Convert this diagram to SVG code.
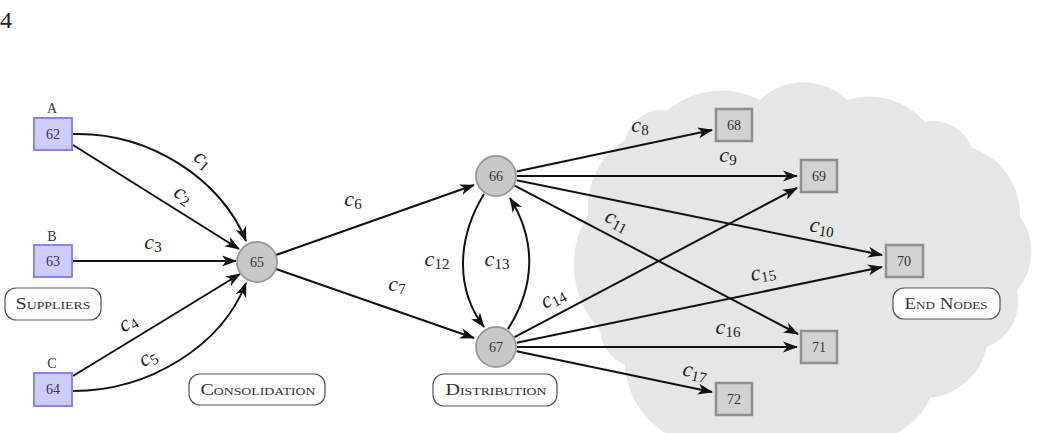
<svg xmlns="http://www.w3.org/2000/svg" width="1038" height="433" viewBox="0 0 1038 433">
<style>
.sup{fill:#ccccff;stroke:#8585f5;stroke-width:2}
.end{fill:#d2d2d2;stroke:#8f8f8f;stroke-width:2.5}
.hub{fill:#c8c8c8;stroke:#999;stroke-width:1.8}
.num{font-family:"Liberation Serif",serif;font-size:14px;fill:#333;text-anchor:middle}
.let{font-family:"Liberation Serif",serif;font-size:14px;fill:#333;text-anchor:middle}
.e{fill:none;stroke:#111;stroke-width:2;marker-end:url(#ah)}
.lab{font-family:"Liberation Serif",serif;font-size:22px;font-style:italic;fill:#222;text-anchor:middle}
.lab tspan{font-style:normal;font-size:15px}
.box{fill:#fff;stroke:#555;stroke-width:1.2}
.cap{font-family:"Liberation Serif",serif;font-size:16px;font-variant:small-caps;fill:#333;text-anchor:middle}
</style>
<defs>
<marker id="ah" markerUnits="userSpaceOnUse" markerWidth="15" markerHeight="12" viewBox="0 0 15 12" refX="14" refY="6" orient="auto">
<path d="M0,0.5 L15,6 L0,11.5 L4,6 Z" fill="#111"/>
</marker>
</defs>
<rect width="1038" height="433" fill="#fff"/>
<text x="0" y="28" font-family="Liberation Serif,serif" font-size="24" fill="#222">4</text>
<path id="cloud" d="M600,330 A94,94 0 0 1 588,215 A80,80 0 0 1 625,140 A39,39 0 0 1 668,110 A83,83 0 0 1 760,100 A62,62 0 0 1 847,100 A74,74 0 0 1 925,122 A41,41 0 0 1 972,148 A70,70 0 0 1 1020,217 A58,58 0 0 1 1017,290 A49,49 0 0 1 987,347 A66,66 0 0 1 930,398 A70,70 0 0 1 860,440 L680,440 A84,84 0 0 1 625,365 A41,41 0 0 1 600,330 Z" fill="#e6e6e6"/>
<g id="connectors">
<path class="e" d="M73,134 C150,132 222,180 246,241"/>
<path class="e" d="M73,145 L239,249"/>
<path class="e" d="M73,261 L236,261"/>
<path class="e" d="M73,376 L240,274"/>
<path class="e" d="M73,391 C150,391 222,345 246,283"/>
<path class="e" d="M276,255 L474,185"/>
<path class="e" d="M276,269 L474,338"/>
<path class="e" d="M516.5,171.6 L712,130"/>
<path class="e" d="M517,176 L797,176"/>
<path class="e" d="M516.6,180.2 L882,255"/>
<path class="e" d="M514.6,185.7 L798,334"/>
<path class="e" d="M484,194 C456,240 456,290 484,327"/>
<path class="e" d="M508,329 C536,285 536,240 510,198"/>
<path class="e" d="M514.5,337.2 L797,188"/>
<path class="e" d="M516.6,342.7 L882,267"/>
<path class="e" d="M517,347 L797,347"/>
<path class="e" d="M516.6,351.3 L712,392"/>
<g id="edge-labels">
<text class="lab" transform="translate(203,160) rotate(40)" y="6">c<tspan dy="3">1</tspan></text>
<text class="lab" transform="translate(183,195) rotate(33)" y="6">c<tspan dy="3">2</tspan></text>
<text class="lab" x="153" y="249">c<tspan dy="3">3</tspan></text>
<text class="lab" transform="translate(128,323) rotate(-32)" y="6">c<tspan dy="3">4</tspan></text>
<text class="lab" transform="translate(148,358) rotate(-28)" y="6">c<tspan dy="3">5</tspan></text>
<text class="lab" x="353" y="206">c<tspan dy="3">6</tspan></text>
<text class="lab" x="397" y="291">c<tspan dy="3">7</tspan></text>
<text class="lab" x="640" y="132">c<tspan dy="3">8</tspan></text>
<text class="lab" x="728" y="162">c<tspan dy="3">9</tspan></text>
<text class="lab" transform="translate(822,227) rotate(8)" y="6">c<tspan dy="3">10</tspan></text>
<text class="lab" transform="translate(617,221) rotate(28)" y="6">c<tspan dy="3">11</tspan></text>
<text class="lab" x="437" y="266">c<tspan dy="3">12</tspan></text>
<text class="lab" x="497" y="266">c<tspan dy="3">13</tspan></text>
<text class="lab" transform="translate(553,298) rotate(-28)" y="6">c<tspan dy="3">14</tspan></text>
<text class="lab" transform="translate(763,273) rotate(-10)" y="6">c<tspan dy="3">15</tspan></text>
<text class="lab" x="728" y="334">c<tspan dy="3">16</tspan></text>
<text class="lab" transform="translate(695,372) rotate(12)" y="6">c<tspan dy="3">17</tspan></text>
</g>
</g>
<g id="n62"><rect class="sup" x="34" y="118" width="38" height="32"/><text class="num" x="53" y="139">62</text><text class="let" x="52" y="113">A</text></g>
<g id="n63"><rect class="sup" x="34" y="245" width="38" height="32"/><text class="num" x="53" y="266">63</text><text class="let" x="52" y="241">B</text></g>
<g id="n64"><rect class="sup" x="34" y="373" width="38" height="33"/><text class="num" x="53" y="394">64</text><text class="let" x="52" y="368">C</text></g>
<g id="n65"><circle class="hub" cx="257" cy="262" r="20"/><text class="num" x="257" y="267">65</text></g>
<g id="n66"><circle class="hub" cx="496" cy="176" r="20"/><text class="num" x="496" y="181">66</text></g>
<g id="n67"><circle class="hub" cx="496" cy="347" r="20"/><text class="num" x="496" y="352">67</text></g>
<g id="n68"><rect class="end" x="716" y="109" width="36" height="32"/><text class="num" x="734" y="130">68</text></g>
<g id="n69"><rect class="end" x="801" y="160" width="36" height="32"/><text class="num" x="819" y="181">69</text></g>
<g id="n70"><rect class="end" x="886" y="245" width="37" height="32"/><text class="num" x="904" y="266">70</text></g>
<g id="n71"><rect class="end" x="801" y="331" width="36" height="32"/><text class="num" x="819" y="352">71</text></g>
<g id="n72"><rect class="end" x="716" y="383" width="36" height="32"/><text class="num" x="734" y="404">72</text></g>
<g id="suppliers"><rect class="box" x="5" y="288" width="96" height="32" rx="11"/><text class="cap" x="53" y="309" textLength="75" lengthAdjust="spacingAndGlyphs">Suppliers</text></g>
<g id="consolidation"><rect class="box" x="189" y="374" width="136" height="31" rx="11"/><text class="cap" x="258" y="395" textLength="115" lengthAdjust="spacingAndGlyphs">Consolidation</text></g>
<g id="distribution"><rect class="box" x="433" y="374" width="124" height="32" rx="11"/><text class="cap" x="496" y="395" textLength="101" lengthAdjust="spacingAndGlyphs">Distribution</text></g>
<g id="endnodes"><rect class="box" x="893" y="288" width="107" height="31" rx="11"/><text class="cap" x="946" y="309" textLength="83" lengthAdjust="spacingAndGlyphs">End Nodes</text></g>
</svg>
